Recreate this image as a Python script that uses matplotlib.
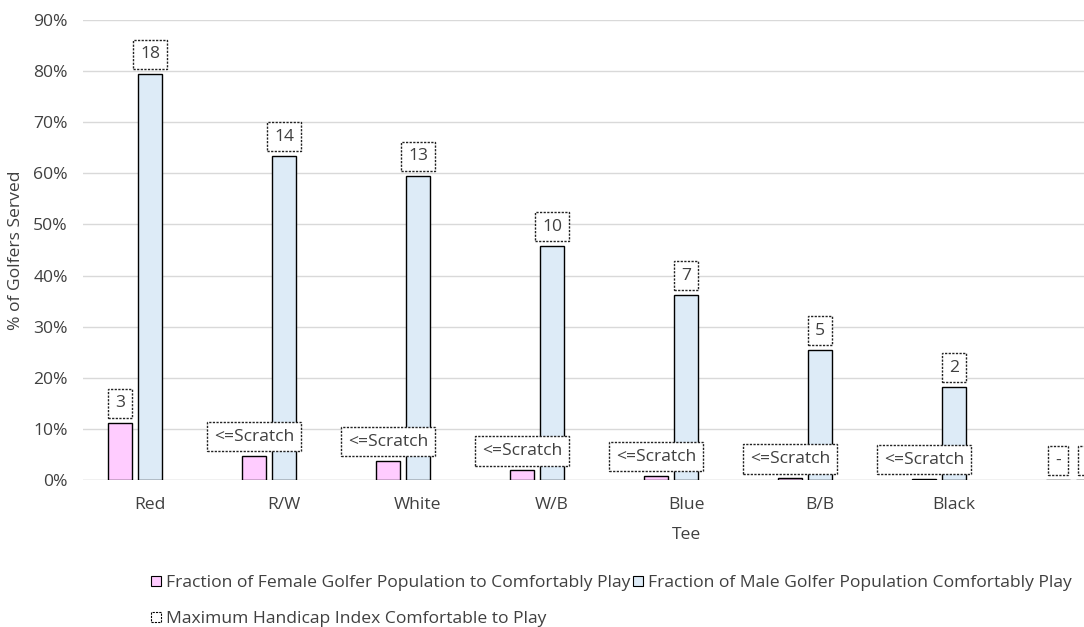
import matplotlib
matplotlib.use("Agg")
import matplotlib.pyplot as plt
from matplotlib.patches import Patch
import numpy as np

tees = ["Red", "R/W", "White", "W/B", "Blue", "B/B", "Black", ""]
female = [0.112, 0.047, 0.037, 0.019, 0.008, 0.003, 0.002, 0.0]
male = [0.795, 0.634, 0.595, 0.458, 0.362, 0.254, 0.182, 0.0]
female_labels = ["3", "<=Scratch", "<=Scratch", "<=Scratch", "<=Scratch", "<=Scratch", "<=Scratch", "-"]
male_labels = ["18", "14", "13", "10", "7", "5", "2", "-"]
yticks = [0, 0.1, 0.2, 0.3, 0.4, 0.5, 0.6, 0.7, 0.8, 0.9]

plt.rcParams['font.family'] = ['Open Sans', 'DejaVu Sans']
FS = 12.6
TXT = "#404040"

fig = plt.figure(figsize=(10.84, 6.27), dpi=100)
W, H = 1084, 627
ax = fig.add_axes([83 / W, 1 - 480 / H, (1155 - 83) / W, (480 - 20) / H])

x = np.arange(len(tees))
bw = 24 / 134
off = 30 / 134
fcol = "#FFCCFF"
mcol = "#DDEBF7"
ax.bar(x - off, female, bw, color=fcol, edgecolor="black", linewidth=1.0, zorder=3)
ax.bar(x, male, bw, color=mcol, edgecolor="black", linewidth=1.0, zorder=3)

bbox = dict(boxstyle="square,pad=0.38", fc="white", ec="#222222", ls=(0, (1.6, 1)), lw=1.0)
for xi, v, lab in zip(x - off, female, female_labels):
    ax.annotate(lab, (xi, v), xytext=(0, 8.2), textcoords="offset points", ha="center", va="bottom",
                fontsize=FS, color=TXT, bbox=bbox, zorder=5, annotation_clip=False)
for xi, v, lab in zip(x, male, male_labels):
    ax.annotate(lab, (xi, v), xytext=(0, 8.2), textcoords="offset points", ha="center", va="bottom",
                fontsize=FS, color=TXT, bbox=bbox, zorder=5, annotation_clip=False)

ax.set_xlim(-0.5, len(tees) - 0.5)
ax.set_ylim(0, 0.9)
ax.set_yticks(yticks)
ax.set_yticklabels([f"{int(round(t * 100))}%" for t in yticks], fontsize=FS, color=TXT)
ax.set_xticks(x)
ax.set_xticklabels(tees, fontsize=FS, color=TXT)
ax.tick_params(axis="both", length=0)
ax.tick_params(axis="x", pad=12)
ax.tick_params(axis="y", pad=11)
ax.grid(axis="y", color="#D9D9D9", linewidth=1.0, zorder=0)
for s in ["top", "right", "left", "bottom"]:
    ax.spines[s].set_visible(False)
ax.axhline(0, color="#D9D9D9", lw=1.0, zorder=2)

fig.text(687 / W, 1 - 535 / H, "Tee", ha="center", va="center", fontsize=FS, color=TXT)
fig.text(16 / W, 1 - 250 / H, "% of Golfers Served", ha="center", va="center", rotation=90,
         fontsize=FS, color=TXT)

h1 = Patch(facecolor=fcol, edgecolor="black", lw=0.8, label="Fraction of Female Golfer Population to Comfortably Play")
h2 = Patch(facecolor=mcol, edgecolor="black", lw=0.8, label="Fraction of Male Golfer Population Comfortably Play")
h3 = Patch(facecolor="white", edgecolor="black", lw=0.8, ls=(0, (2, 1)), label="Maximum Handicap Index Comfortable to Play")
leg1 = fig.legend(handles=[h1, h2], loc="center left", bbox_to_anchor=(146 / W, 1 - 583 / H), ncol=2,
                  frameon=False, fontsize=FS, handlelength=0.55, handleheight=0.55, handletextpad=0.3,
                  columnspacing=0.15, labelcolor=TXT, borderaxespad=0, borderpad=0.3)
leg2 = fig.legend(handles=[h3], loc="center left", bbox_to_anchor=(146 / W, 1 - 619 / H), ncol=1,
                  frameon=False, fontsize=FS, handlelength=0.55, handleheight=0.55, handletextpad=0.3,
                  labelcolor=TXT, borderaxespad=0, borderpad=0.3)

fig.savefig("out.png", dpi=100)
